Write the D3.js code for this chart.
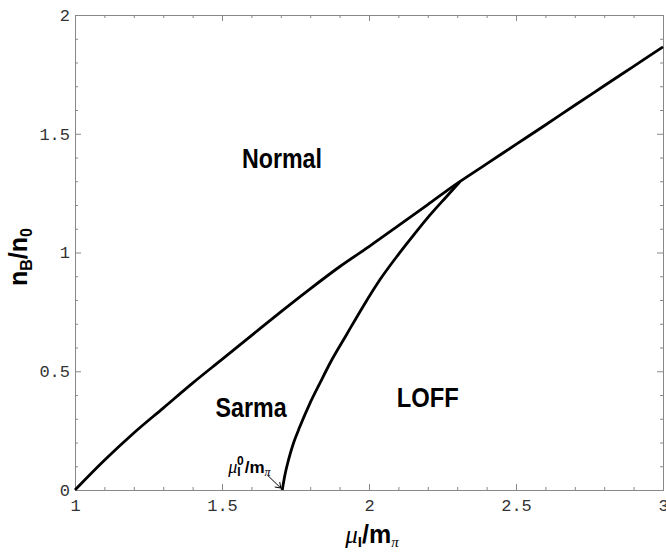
<!DOCTYPE html>
<html><head><meta charset="utf-8">
<script src="https://cdn.jsdelivr.net/npm/d3@7"></script>
<style>body{margin:0;background:#fff}</style>
</head><body><svg id="c" width="666" height="552"></svg>
<script>
// Upper boundary (Normal phase)
const upperMu = [1.0,1.1,1.2,1.3,1.4,1.5,1.6,1.7,1.8,1.9,2.0,2.1,2.2,2.3,2.4,2.5,2.6,2.7,2.8,2.9,3.0];
const upperNB = [0,0.125,0.24,0.345,0.45,0.55,0.65,0.75,0.847,0.94,1.025,1.113,1.202,1.291,1.373,1.455,1.537,1.62,1.702,1.784,1.866];
// Lower boundary (Sarma / LOFF)
const lowerMu = [1.705,1.714,1.726,1.743,1.765,1.799,1.833,1.87,1.924,1.981,2.037,2.094,2.151,2.207,2.264,2.31];
const lowerNB = [0,0.063,0.126,0.197,0.267,0.365,0.45,0.54,0.655,0.775,0.885,0.982,1.072,1.157,1.236,1.299];
const xTicks = [1,1.5,2,2.5,3];
const xTickLabels = ["1","1.5","2","2.5","3"];
const yTicks = [0,0.5,1,1.5,2];
const yTickLabels = ["0","0.5","1","1.5","2"];
const regionNames = ["Normal","Sarma","LOFF"];
const regionMu = [1.704,1.599,2.2];
const regionNB = [1.356,0.307,0.35];

const svg = d3.select("#c");
const L=75,R=663,T=15,B=490;
const x = d3.scaleLinear().domain([1,3]).range([L,R]);
const y = d3.scaleLinear().domain([0,2]).range([B,T]);
const frameCol="#888";
const regionWidths = [80,71,62];

const minorX = d3.range(1,3.0001,0.1).map(v=>+v.toFixed(2)).filter(v=>!xTicks.some(t=>Math.abs(t-v)<1e-6));
const minorY = d3.range(0,2.0001,0.1).map(v=>+v.toFixed(2)).filter(v=>!yTicks.some(t=>Math.abs(t-v)<1e-6));

function style(g){ g.select(".domain").attr("stroke",frameCol); g.selectAll(".tick line").attr("stroke",frameCol);
  g.selectAll("text").attr("fill","#333").attr("font-family","'Liberation Mono', monospace").attr("font-size",17); }

svg.append("g").attr("transform",`translate(0,${B})`).call(d3.axisBottom(x).tickValues(minorX).tickSize(-3).tickFormat("")).call(style);
svg.append("g").attr("transform",`translate(0,${B})`).call(d3.axisBottom(x).tickValues(xTicks).tickSize(-6).tickPadding(9).tickFormat((d,i)=>xTickLabels[i])).call(style);
svg.append("g").attr("transform",`translate(0,${T})`).call(d3.axisTop(x).tickValues(minorX).tickSize(-3).tickFormat("")).call(style);
svg.append("g").attr("transform",`translate(0,${T})`).call(d3.axisTop(x).tickValues(xTicks).tickSize(-6).tickFormat("")).call(style);
svg.append("g").attr("transform",`translate(${L},0)`).call(d3.axisLeft(y).tickValues(minorY).tickSize(-3).tickFormat("")).call(style);
svg.append("g").attr("transform",`translate(${L},0)`).call(d3.axisLeft(y).tickValues(yTicks).tickSize(-6).tickPadding(5).tickFormat((d,i)=>yTickLabels[i])).call(style);
svg.append("g").attr("transform",`translate(${R},0)`).call(d3.axisRight(y).tickValues(minorY).tickSize(-3).tickFormat("")).call(style);
svg.append("g").attr("transform",`translate(${R},0)`).call(d3.axisRight(y).tickValues(yTicks).tickSize(-6).tickFormat("")).call(style);

const up = upperMu.map((m,i)=>[m,upperNB[i]]);
const lo = lowerMu.map((m,i)=>[m,lowerNB[i]]);
svg.append("path").datum(up).attr("fill","none").attr("stroke","#000").attr("stroke-width",2.8)
  .attr("stroke-linejoin","round").attr("d",d3.line().curve(d3.curveMonotoneX).x(d=>x(d[0])).y(d=>y(d[1])));
svg.append("path").datum(lo).attr("fill","none").attr("stroke","#000").attr("stroke-width",2.8)
  .attr("stroke-linejoin","round").attr("d",d3.line().curve(d3.curveMonotoneX).x(d=>x(d[0])).y(d=>y(d[1])));

regionNames.forEach((n,i)=>{
  svg.append("text").attr("x",x(regionMu[i])).attr("y",y(regionNB[i])).attr("text-anchor","middle")
    .attr("font-family","'Liberation Sans',Arial,sans-serif").attr("font-weight","bold")
    .attr("font-size",27).attr("textLength",regionWidths[i]).attr("lengthAdjust","spacingAndGlyphs").text(n);
});

// x label
const xl = svg.append("text").attr("x",372).attr("y",543).attr("text-anchor","middle").attr("fill","#000");
xl.append("tspan").attr("font-family","'Liberation Serif',serif").attr("font-style","italic").attr("font-size",25).text("μ");
xl.append("tspan").attr("font-family","'Liberation Sans',sans-serif").attr("font-weight","bold").attr("font-size",15).attr("dy",4).text("I");
xl.append("tspan").attr("font-family","'Liberation Sans',sans-serif").attr("font-weight","bold").attr("font-size",25).attr("dy",-4).text("/m");
xl.append("tspan").attr("font-family","'Liberation Serif',serif").attr("font-style","italic").attr("font-size",15).attr("dy",4).text("π");

// y label
const yl = svg.append("text").attr("transform","translate(27,257) rotate(-90)").attr("text-anchor","middle").attr("fill","#000")
  .attr("font-family","'Liberation Sans',sans-serif").attr("font-weight","bold");
yl.append("tspan").attr("font-size",25).text("n");
yl.append("tspan").attr("font-size",16).attr("dy",5).text("B");
yl.append("tspan").attr("font-size",25).attr("dy",-5).text("/n");
yl.append("tspan").attr("font-size",16).attr("dy",5).text("0");

// annotation mu_I^0 / m_pi with arrow
const px = x(lowerMu[0]), py = y(lowerNB[0]);
const an = svg.append("text").attr("x",px-54).attr("y",py-17).attr("fill","#000");
an.append("tspan").attr("font-family","'Liberation Serif',serif").attr("font-style","italic").attr("font-size",18).text("μ");
an.append("tspan").attr("font-family","'Liberation Sans',sans-serif").attr("font-weight","bold").attr("font-size",12).attr("dy",3).text("I");
an.append("tspan").attr("font-family","'Liberation Sans',sans-serif").attr("font-weight","bold").attr("font-size",12).attr("dx",-3.6).attr("dy",-11).text("0");
an.append("tspan").attr("font-family","'Liberation Sans',sans-serif").attr("font-weight","bold").attr("font-size",17).attr("dx",1).attr("dy",8).text("/m");
an.append("tspan").attr("font-family","'Liberation Serif',serif").attr("font-style","italic").attr("font-size",12).attr("dy",3).text("π");
const ax0=px-15, ay0=py-15, ax1=px-1.5, ay1=py-2;
svg.append("line").attr("x1",ax0).attr("y1",ay0).attr("x2",ax1).attr("y2",ay1).attr("stroke","#000").attr("stroke-width",1);
svg.append("path").attr("d",`M${ax1-6},${ay1-1}L${ax1},${ay1}L${ax1-1},${ay1-6}`).attr("fill","none").attr("stroke","#000").attr("stroke-width",1);
</script></body></html>
